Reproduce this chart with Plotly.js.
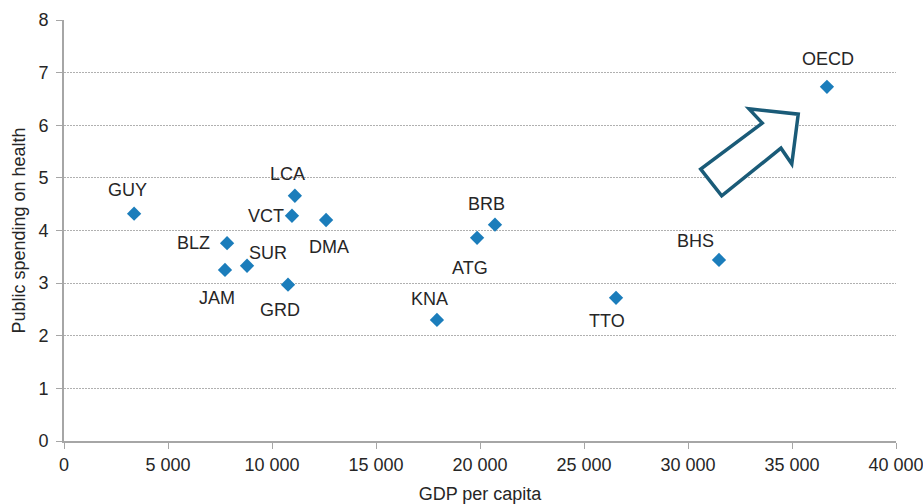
<!DOCTYPE html>
<html>
<head>
<meta charset="utf-8">
<script src="https://cdn.plot.ly/plotly-3.0.1.min.js"></script>
<style>html,body{margin:0;padding:0;background:#fff}#chart{width:923px;height:504px}</style>
</head>
<body>
<div id="chart"></div>
<script>
const countries = ["GUY","LCA","VCT","DMA","BLZ","SUR","JAM","GRD","BRB","ATG","KNA","TTO","BHS","OECD"];
const gdpPerCapita = [3370, 11100, 10960, 12600, 7840, 8800, 7740, 10770, 20720, 19860, 17930, 26540, 31490, 36680];
const healthSpending = [4.32, 4.66, 4.28, 4.20, 3.76, 3.33, 3.25, 2.97, 4.11, 3.86, 2.30, 2.72, 3.44, 6.73];

// label offsets in pixels (style)
const labelDx = [-7, -7, -26, 3, -34, 21, -8, -8, -8, -7, -7, -9, -23, 1];
const labelDy = [-24, -22, 0, 27, 0, -13, 28, 25, -21, 30, -21, 23, -19, -28];

// decorative arrow outline (data coordinates)
const arrowX = [30610, 31620, 34470, 34990, 35300, 32930, 33570];
const arrowY = [5.165, 4.658, 5.565, 5.266, 6.211, 6.312, 6.040];

const font = "Liberation Sans, Arial, sans-serif";
const txt = "#262626";

const trace = {
  x: gdpPerCapita, y: healthSpending, mode: "markers", type: "scatter",
  marker: {symbol: "diamond", size: 11, color: "#1b7dbb"},
  hoverinfo: "skip"
};

const annotations = countries.map((c, i) => ({
  x: gdpPerCapita[i], y: healthSpending[i], text: c,
  showarrow: true, arrowcolor: "rgba(0,0,0,0)", arrowwidth: 0.1,
  ax: labelDx[i], ay: labelDy[i],
  font: {family: font, size: 18, color: txt}
}));

let path = "M " + arrowX[0] + "," + arrowY[0];
for (let i = 1; i < arrowX.length; i++) path += " L " + arrowX[i] + "," + arrowY[i];
path += " Z";

const layout = {
  width: 923, height: 504,
  margin: {l: 64, r: 27, t: 20, b: 63},
  paper_bgcolor: "#fff", plot_bgcolor: "#fff",
  showlegend: false,
  separators: ". ",
  font: {family: font, color: txt},
  xaxis: {
    range: [0, 40000], dtick: 5000, tick0: 0, tickformat: ",d",
    showgrid: false, zeroline: false,
    showline: true, linecolor: "#a6a6a6", linewidth: 2,
    ticks: "outside", ticklen: 6, tickcolor: "#a6a6a6", tickwidth: 1,
    ticklabeloverflow: "allow",
    tickfont: {family: font, size: 18, color: txt},
    title: {text: "GDP per capita", font: {family: font, size: 18, color: txt}, standoff: 14},
    fixedrange: true
  },
  yaxis: {
    range: [0, 8], dtick: 1, tick0: 0,
    showgrid: true, gridcolor: "#b0b0b0", griddash: "2px,1px", gridwidth: 1,
    zeroline: false,
    showline: true, linecolor: "#a6a6a6", linewidth: 2,
    ticks: "outside", ticklen: 6, tickcolor: "#a6a6a6", tickwidth: 1,
    ticklabelstandoff: 4,
    tickfont: {family: font, size: 18, color: txt},
    title: {text: "Public spending on health", font: {family: font, size: 18, color: txt}, standoff: 8},
    fixedrange: true
  },
  annotations: annotations,
  shapes: [{
    type: "path", xref: "x", yref: "y", path: path,
    line: {color: "#1a5b78", width: 3.5}, fillcolor: "#ffffff"
  }]
};

Plotly.newPlot("chart", [trace], layout, {displayModeBar: false, staticPlot: true});
</script>
</body>
</html>
